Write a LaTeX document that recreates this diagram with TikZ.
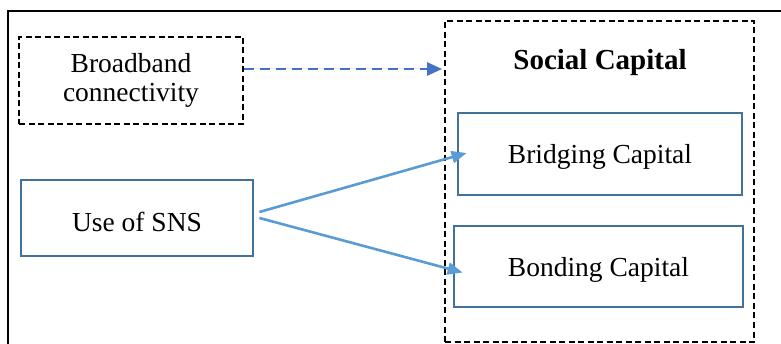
\documentclass[tikz,border=0pt]{standalone}
\usepackage{fontspec}
\setmainfont{Liberation Serif}
\usetikzlibrary{arrows.meta,positioning}
\definecolor{boxblue}{RGB}{65,113,156}
\definecolor{arrowblue}{RGB}{91,155,213}
\definecolor{dashblue}{RGB}{68,114,196}

\begin{document}
\begin{tikzpicture}[x=1pt,y=-1pt, >=Latex]
  \tikzstyle{plain}=[rectangle, draw=boxblue, line width=2.8pt, align=center, font=\fontsize{27.5}{29}\selectfont, inner sep=0pt, text height=24pt, text depth=4.4pt]
  \tikzstyle{dashbox}=[rectangle, draw=black, line width=1.8pt, dash pattern=on 6pt off 3.5pt, align=center, font=\fontsize{27.5}{29}\selectfont, inner sep=0pt]
  \tikzstyle{link}=[line width=2.6pt, draw=arrowblue, -{Triangle[length=15pt,width=12pt]}]
  \useasboundingbox (0,0) rectangle (781,344);
  % frame
  \draw[line width=2.6pt] (8,344) -- (8,11) -- (781,11);
  \node[dashbox, minimum width=224pt, minimum height=87pt] (broadband) at (131,80.5) {Broadband\\connectivity};
  \node[plain, minimum width=232pt, minimum height=76pt, text height=27pt, text depth=0.5pt] (sns) at (137,218) {Use of SNS};
  \node[dashbox, minimum width=309pt, minimum height=321pt] (social) at (599.5,181.5) {};
  \node[font=\fontsize{29}{27}\selectfont\bfseries] (title) at (600,63) {Social Capital};
  \node[plain, minimum width=284pt, minimum height=82pt] (bridging) at (600,154) {Bridging Capital};
  \node[plain, minimum width=289pt, minimum height=81pt] (bonding) at (598.5,266.5) {Bonding Capital};
  \draw[line width=2.6pt, draw=dashblue, dash pattern=on 10pt off 6pt, -{Triangle[length=15pt,width=13pt]}, fill=dashblue, shorten >=2pt]
    ([yshift=11.5pt]broadband.east) -- ([yshift=11.5pt]broadband.east -| social.west);
  \draw[link, fill=arrowblue] ([xshift=5pt,yshift=6pt]sns.east) -- ([xshift=10pt,yshift=1pt]bridging.west);
  \draw[link, fill=arrowblue] ([xshift=5pt]sns.east) -- ([xshift=10pt,yshift=-6pt]bonding.west);
\end{tikzpicture}
\end{document}
